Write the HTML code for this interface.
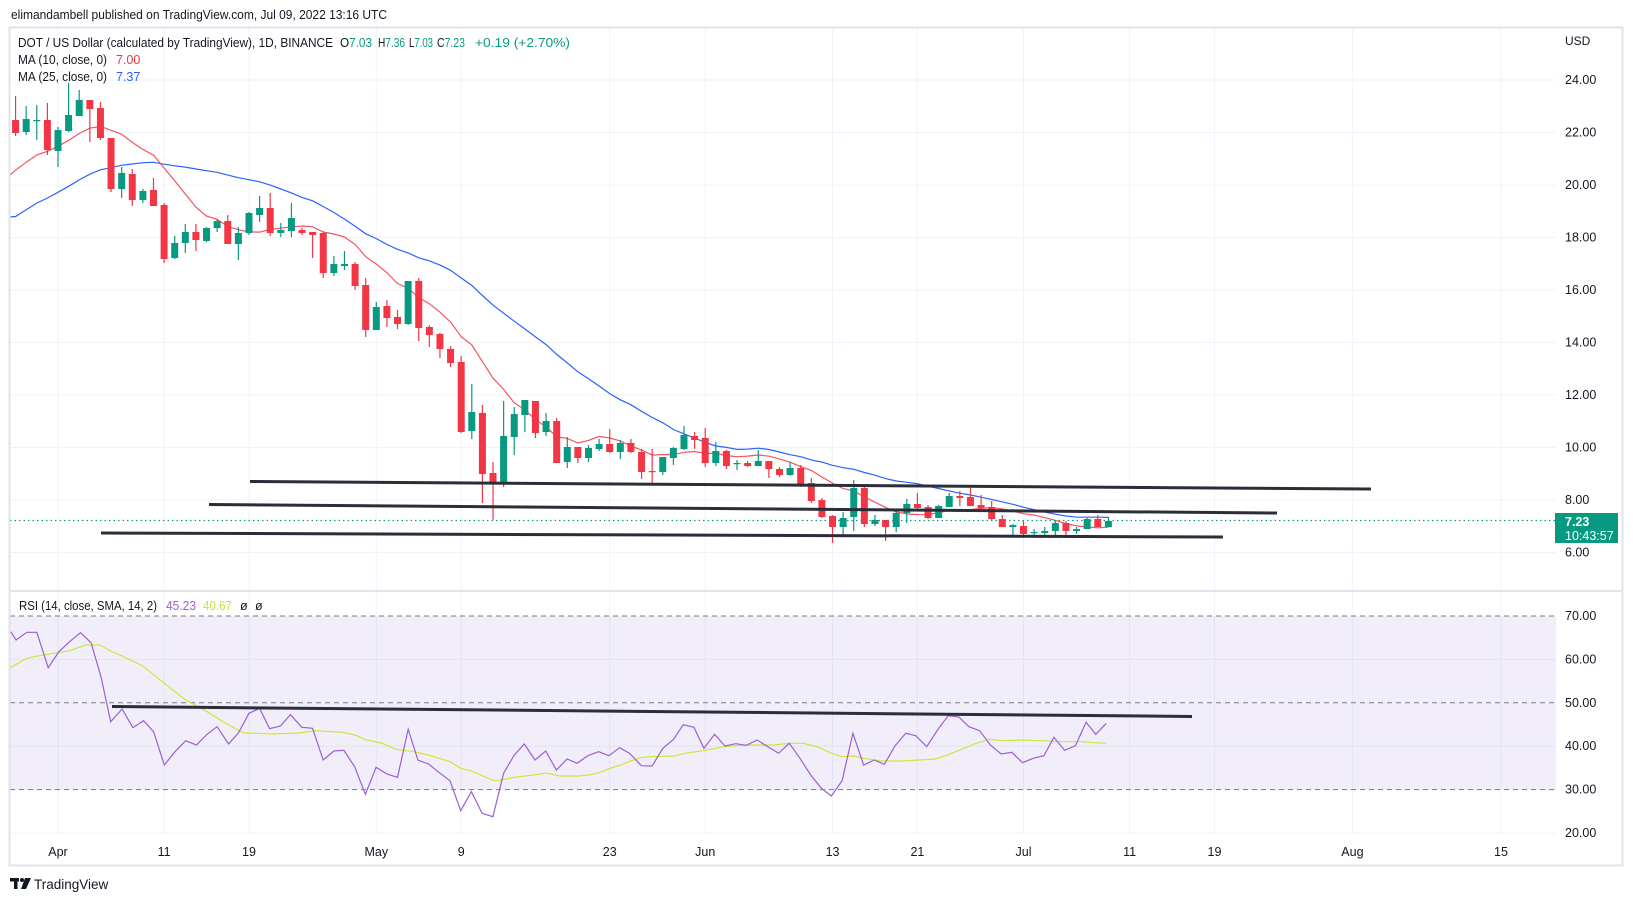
<!DOCTYPE html>
<html><head><meta charset="utf-8"><style>
html,body{margin:0;padding:0;background:#fff;}
svg{display:block;font-family:"Liberation Sans",sans-serif;}
</style></head><body>
<svg id="c" width="1633" height="901" viewBox="0 0 1633 901" xmlns="http://www.w3.org/2000/svg">
<rect x="0" y="0" width="1633" height="901" fill="#fff"/>
<text x="11" y="19" font-size="12.5" fill="#131722" textLength="376" lengthAdjust="spacingAndGlyphs">elimandambell published on TradingView.com, Jul 09, 2022 13:16 UTC</text>
<g id="grid"></g>
<rect x="10" y="616" width="1546" height="174" fill="#7e57c2" fill-opacity="0.1"/>
<g id="rsig"></g>
<g id="main"></g>
<rect x="9.5" y="27.5" width="1613" height="838" fill="none" stroke="#e0e3eb" stroke-width="2"/>
<line x1="10" y1="591" x2="1622" y2="591" stroke="#e0e3eb" stroke-width="2"/>
<!-- legends -->
<text x="18" y="47" font-size="12.5" fill="#131722" textLength="315" lengthAdjust="spacingAndGlyphs">DOT / US Dollar (calculated by TradingView), 1D, BINANCE</text>
<text x="340" y="47" font-size="12.5" fill="#131722" textLength="32" lengthAdjust="spacingAndGlyphs">O<tspan fill="#089981">7.03</tspan></text>
<text x="378" y="47" font-size="12.5" fill="#131722" textLength="27" lengthAdjust="spacingAndGlyphs">H<tspan fill="#089981">7.36</tspan></text>
<text x="409" y="47" font-size="12.5" fill="#131722" textLength="24" lengthAdjust="spacingAndGlyphs">L<tspan fill="#089981">7.03</tspan></text>
<text x="437" y="47" font-size="12.5" fill="#131722" textLength="28" lengthAdjust="spacingAndGlyphs">C<tspan fill="#089981">7.23</tspan></text>
<text x="475" y="47" font-size="12.5" fill="#089981" textLength="95" lengthAdjust="spacingAndGlyphs">+0.19 (+2.70%)</text>
<text x="18" y="64" font-size="12.5" fill="#131722" textLength="89" lengthAdjust="spacingAndGlyphs">MA (10, close, 0)</text>
<text x="116" y="64" font-size="12.5" fill="#f23645">7.00</text>
<text x="18" y="81" font-size="12.5" fill="#131722" textLength="89" lengthAdjust="spacingAndGlyphs">MA (25, close, 0)</text>
<text x="116" y="81" font-size="12.5" fill="#2962ff">7.37</text>
<text x="19" y="610" font-size="12.5" fill="#131722" textLength="138" lengthAdjust="spacingAndGlyphs">RSI (14, close, SMA, 14, 2)</text>
<text x="166" y="610" font-size="12.5" fill="#9c5fd6" textLength="30" lengthAdjust="spacingAndGlyphs">45.23</text>
<text x="203" y="610" font-size="12.5" fill="#c9e33a" textLength="29" lengthAdjust="spacingAndGlyphs">40.67</text>
<text x="240" y="610" font-size="12.5" fill="#131722">ø</text>
<text x="255" y="610" font-size="12.5" fill="#131722">ø</text>
<text x="1565" y="45" font-size="12" fill="#131722">USD</text>
<g id="axis" font-size="12.5" fill="#131722"></g>
<!-- price tag -->
<rect x="1555" y="513" width="63" height="30" fill="#089981"/>
<text x="1565" y="526" font-size="12.5" font-weight="bold" fill="#fff">7.23</text>
<text x="1565" y="540" font-size="12.5" fill="#fff">10:43:57</text>
<!-- footer -->
<g fill="#131722">
<rect x="10" y="878" width="9" height="3.5"/><rect x="14" y="878" width="3.5" height="11"/>
<circle cx="22" cy="880" r="2"/><polygon points="25,878 31,878 26,889 21,889"/>
</g>
<text x="34" y="889" font-size="13.5" fill="#131722">TradingView</text>
</svg>
<script>
var NS="http://www.w3.org/2000/svg";
function el(p,t,a){var e=document.createElementNS(NS,t);for(var k in a)e.setAttribute(k,a[k]);document.getElementById(p).appendChild(e);return e;}
function X(d){return 58+10.61*d;}
function YP(p){return 80+(24-p)*26.25;}
function YR(r){return 616+(70-r)*4.34;}
for(var p=6;p<=24;p+=2){el("grid","line",{x1:10,x2:1556,y1:YP(p),y2:YP(p),stroke:"#f0f3fa","stroke-width":1});
 var t=el("axis","text",{x:1565,y:YP(p)+4});t.textContent=p.toFixed(2);}
for(var r=20;r<=70;r+=10){if(r==30||r==50||r==70)continue;el("grid","line",{x1:10,x2:1556,y1:YR(r),y2:YR(r),stroke:"#f0f3fa","stroke-width":1});}
for(var r=20;r<=70;r+=10){var t=el("axis","text",{x:1565,y:YR(r)+4});t.textContent=r.toFixed(2);}
var dates=[[0,"Apr"],[10,"11"],[18,"19"],[30,"May"],[38,"9"],[52,"23"],[61,"Jun"],[73,"13"],[81,"21"],[91,"Jul"],[101,"11"],[109,"19"],[122,"Aug"],[136,"15"]];
dates.forEach(function(d){var x=X(d[0]);el("grid","line",{x1:x,x2:x,y1:28,y2:590,stroke:"#f0f3fa"});el("grid","line",{x1:x,x2:x,y1:592,y2:835,stroke:"#f0f3fa"});
 var t=el("axis","text",{x:x,y:856,"text-anchor":"middle"});t.textContent=d[1];});
[70,50,30].forEach(function(r){el("rsig","line",{x1:10,x2:1556,y1:YR(r),y2:YR(r),stroke:"#787b86","stroke-dasharray":"5 4","stroke-width":1});});
var C=[["r",120,133,96,136],["g",119,132,106,135],["g",120,121,105,140],["r",120,150,103,155],["g",130,151,127,167],["g",115,131,83,132],["g",100,116,90,116],["r",100,109,100,142],["r",108,138,102,140],["r",138,189,138,192],
["g",173,189,167,198],["r",174,200,169,206],["g",191,200,189,203],["r",190,206,178,206],["r",205,259,203,263],["g",243,258,236,259],["g",232,243,224,253],["r",232,240,224,251],["g",228,241,227,242],["g",221,228,219,232],
["r",221,244,215,244],["g",233,244,227,260],["g",213,233,212,235],["g",208,215,196,222],["r",208,233,193,236],["g",230,233,223,237],["g",218,231,203,237],["r",230,233,228,235],["r",232,235,232,258],["r",233,273,232,278],
["g",264,273,256,276],["g",264,266,251,270],["r",264,286,262,290],["r",285,330,278,337],["g",307,330,302,330],["r",306,318,300,327],["r",317,324,310,329],["g",281,324,281,325],["r",281,328,278,341],["r",327,335,325,347],
["r",334,349,333,358],["r",349,363,346,367],["r",362,432,356,433],["g",412,431,384,439],["r",413,474,405,503],["r",473,484,462,520],["g",436,483,401,487],["g",414,437,407,455],["g",400,415,400,432],["r",401,433,401,438],
["g",421,432,413,436],["r",421,463,418,463],["g",447,462,437,468],["r",447,458,447,463],["g",448,458,445,462],["g",444,449,439,451],["r",444,452,429,453],["g",443,452,440,459],["r",443,452,439,453],["r",452,472,449,479],
["r",471,472,449,485],["g",457,472,457,475],["g",448,458,447,465],["g",435,449,426,450],["r",436,440,432,449],["r",438,463,428,467],["g",451,463,442,466],["r",451,466,450,469],["g",463,464,460,470],["r",463,466,461,467],
["g",461,466,450,466],["r",461,469,461,478],["r",469,475,467,477],["g",468,475,462,476],["r",468,484,465,487],["r",483,501,478,503],["r",500,517,498,518],["r",516,527,515,543],["g",518,527,512,536],["g",488,517,480,531],
["r",488,524,486,527],["g",520,524,515,526],["r",520,527,520,541],["g",513,527,510,532],["g",504,513,499,523],["r",504,508,493,509],["r",507,518,505,519],["g",506,518,505,518],["g",496,507,493,507],["r",496,498,491,506],
["r",497,506,488,506],["r",505,508,495,509],["r",507,519,501,520],["r",519,527,515,527],["g",525,527,524,537],["r",526,534,520,538],["g",532,533,529,537],["g",531,533,527,536],["g",523,531,521,535],["r",523,531,521,536],
["g",529,531,527,534],["g",519,529,518,529],["r",519,527,515,527],["g",521,527,517,527]];
var closes=[];for(var k=0;k<24;k++)closes.push(290-140*k/23);
C.forEach(function(c){closes.push(c[0]=="g"?c[1]:c[2]);});
function ma(n){var pts=[];for(var i=0;i<C.length;i++){var j=i+24,s=0;for(var q=0;q<n;q++)s+=closes[j-q];pts.push(X(i-4).toFixed(1)+","+(s/n).toFixed(1));}return pts;}
var m25=ma(25),m10=ma(10);
m25.unshift("10,217");m10.unshift("10,175");
el("main","polyline",{points:m25.join(" "),fill:"none",stroke:"#2962ff","stroke-width":1.2});
el("main","polyline",{points:m10.join(" "),fill:"none",stroke:"#f23645","stroke-width":1.2,"stroke-opacity":0.85});
el("main","line",{x1:10,x2:1556,y1:520.5,y2:520.5,stroke:"#089981","stroke-dasharray":"1.5 3","stroke-width":1.2});
C.forEach(function(c,i){var x=X(i-4),col=c[0]=="g"?"#089981":"#f23645";
 el("main","line",{x1:x,x2:x,y1:c[3],y2:c[4],stroke:col,"stroke-width":1.2});
 el("main","rect",{x:x-3.5,y:c[1],width:7,height:Math.max(1.2,c[2]-c[1]),fill:col});});
[[250,481.5,1371,489],[209,504.5,1277,513],[101,533,1223,537]].forEach(function(l){el("main","line",{x1:l[0],y1:l[1],x2:l[2],y2:l[3],stroke:"#2a2e39","stroke-width":3});});
function conv(arr,off){return arr.map(function(p){return (off+p[0]/2.8).toFixed(1)+","+(590+p[1]/3).toFixed(1);});}
var p8=[[30,125],[45,150],[75,127],[103,127],[135,233],[165,185],[195,155],[225,128],[255,158],[283,262],[310,395],[342,357],[372,413],[402,392],[430,425],[460,525],[490,485],[520,452],[550,465],[580,433],[608,410],[640,462],[668,428],[697,370],[727,355],[755,416],[785,408],[813,374],[845,412],[875,415],[905,510],[935,483],[963,481],[993,530],[1023,613],[1053,532],[1083,552],[1113,562],[1143,418],[1170,510],[1200,522],[1230,548],[1260,572],[1290,662],[1320,605],[1350,670],[1380,680],[1410,550],[1440,495],[1468,462],[1498,510],[1528,483],[1558,540]];
var p9=[[20,507],[48,520],[78,497],[108,485],[137,497],[167,473],[195,490],[228,527],[258,528],[288,475],[318,448],[345,404],[375,412],[403,475],[433,433],[462,468],[492,461],[522,466],[552,450],[582,470],[612,490],[642,460],[672,505],[702,555],[732,595],[760,618],[790,572],[820,430],[850,525],[880,510],[908,523],[938,468],[968,430],[996,437],[1027,470],[1057,420],[1087,377],[1117,381],[1145,410],[1175,422],[1205,465],[1235,492],[1265,487],[1295,518],[1325,505],[1355,497],[1383,442],[1413,481],[1443,467],[1473,397],[1500,433],[1530,400]];
var y8=[[30,232],[75,205],[110,197],[150,190],[195,182],[240,165],[280,165],[310,183],[350,202],[400,228],[460,280],[520,330],[580,365],[640,405],[680,428],[760,432],[840,429],[880,422],[960,427],[1000,437],[1020,448],[1070,460],[1110,478],[1160,485],[1200,495],[1260,515],[1290,535],[1320,543],[1380,571],[1400,571],[1440,562],[1500,554],[1530,549],[1568,558]];
var y9=[[50,558],[80,555],[110,548],[140,535],[170,525],[200,512],[230,502],[260,500],[320,498],[350,490],[400,482],[460,470],[520,465],[600,465],[640,460],[680,460],[720,470],[760,490],[790,500],[820,498],[850,505],[900,513],[960,513],[1050,507],[1080,497],[1120,480],[1160,462],[1200,448],[1240,452],[1290,450],[1350,452],[1400,455],[1460,455],[1500,458],[1530,460]];
el("rsig","polyline",{points:conv(y8,0).concat(conv(y9,560)).join(" "),fill:"none",stroke:"#cde63a","stroke-width":1.2});
el("rsig","polyline",{points:conv(p8,0).concat(conv(p9,560)).join(" "),fill:"none",stroke:"#9c5fd6","stroke-width":1.2});
el("rsig","line",{x1:112,y1:706.5,x2:1192,y2:716.5,stroke:"#2a2e39","stroke-width":3});
</script>
</body></html>
